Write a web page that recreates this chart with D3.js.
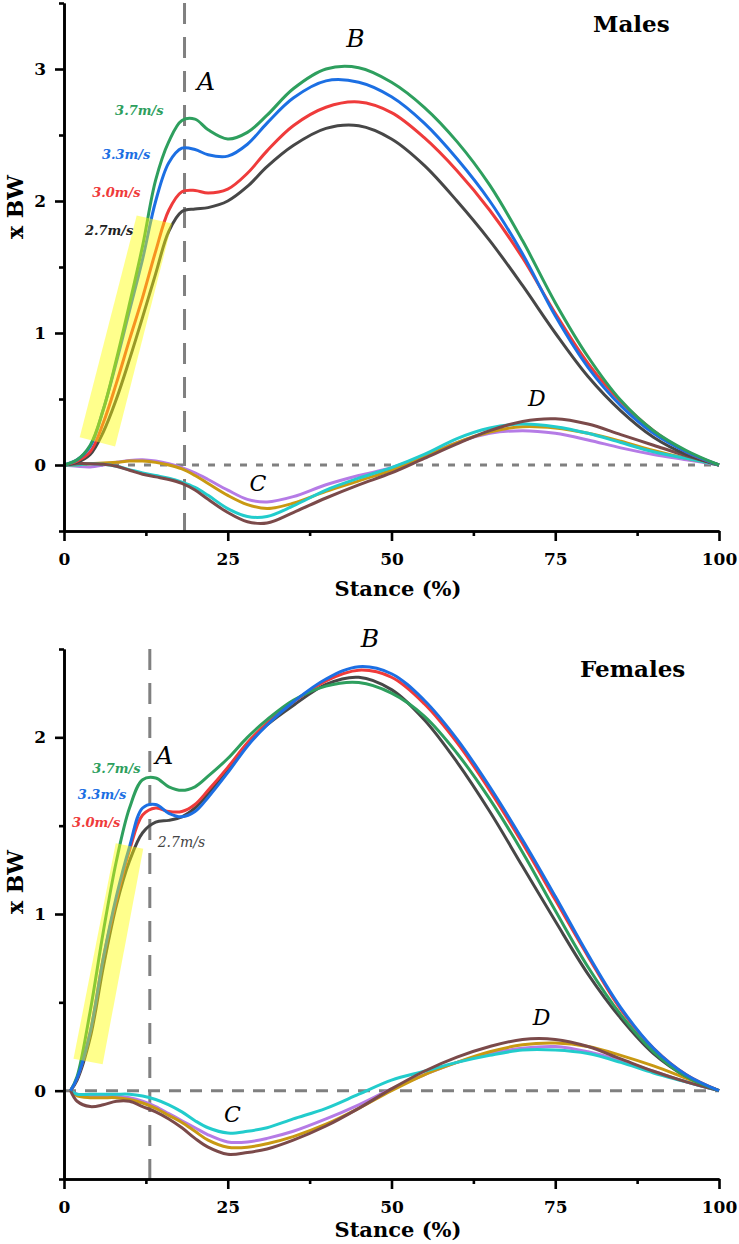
<!DOCTYPE html>
<html>
<head>
<meta charset="utf-8">
<script src="https://cdn.jsdelivr.net/npm/d3@7"></script>
<style>
  html, body { margin: 0; padding: 0; background: #fff; }
  svg { display: block; }
  text { font-family: "DejaVu Serif", "Liberation Serif", serif; }
</style>
</head>
<body>
<script>
// ---------------- DATA ----------------
const stanceM = [0,2,4,6,8,10,12,14,16,18,20,22,25,28,31,35,40,45,50,55,60,65,70,75,80,85,90,95,100];
const stanceF = [1,2,4,6,8,10,12,14,16,18,20,22,25,28,31,35,40,45,50,55,60,65,70,75,80,85,90,95,100];

const speeds = ["2.7m/s","3.0m/s","3.3m/s","3.7m/s"];

// Males – upper curves (x BW)
const male27 = [0,0.02,0.08,0.25,0.5,0.8,1.12,1.45,1.77,1.92,1.94,1.95,2.0,2.11,2.26,2.42,2.55,2.57,2.47,2.27,2.0,1.7,1.36,1.0,0.67,0.41,0.21,0.08,0];
const male30 = [0,0.03,0.1,0.32,0.62,0.95,1.27,1.62,1.93,2.07,2.08,2.06,2.09,2.21,2.38,2.57,2.71,2.75,2.67,2.48,2.23,1.93,1.57,1.15,0.77,0.48,0.26,0.1,0];
const male33 = [0,0.04,0.14,0.42,0.78,1.17,1.56,2.0,2.29,2.4,2.39,2.35,2.34,2.43,2.59,2.78,2.91,2.9,2.79,2.59,2.32,2.0,1.6,1.13,0.74,0.45,0.24,0.1,0];
const male37 = [0,0.04,0.15,0.42,0.8,1.22,1.66,2.16,2.45,2.61,2.62,2.54,2.47,2.52,2.65,2.85,3.0,3.01,2.9,2.71,2.45,2.12,1.7,1.23,0.82,0.49,0.26,0.11,0];
// Males – lower curves
const malePurple = [0,-0.01,-0.015,0.0,0.02,0.035,0.04,0.03,0.01,-0.02,-0.06,-0.11,-0.19,-0.26,-0.28,-0.24,-0.15,-0.08,-0.02,0.07,0.17,0.24,0.26,0.24,0.19,0.13,0.08,0.04,0];
const maleGold   = [0,0.0,0.01,0.015,0.02,0.03,0.03,0.02,0.0,-0.03,-0.08,-0.14,-0.23,-0.3,-0.33,-0.29,-0.2,-0.12,-0.04,0.06,0.17,0.25,0.29,0.28,0.24,0.18,0.11,0.05,0];
const maleCyan   = [0,0.0,0.01,0.005,-0.01,-0.035,-0.06,-0.08,-0.1,-0.13,-0.17,-0.23,-0.33,-0.39,-0.39,-0.31,-0.19,-0.1,-0.02,0.08,0.2,0.28,0.31,0.29,0.24,0.17,0.1,0.05,0];
const maleBrown  = [0,0.01,0.01,0.005,-0.01,-0.04,-0.07,-0.09,-0.11,-0.14,-0.19,-0.26,-0.36,-0.43,-0.44,-0.36,-0.25,-0.15,-0.06,0.05,0.16,0.26,0.33,0.35,0.31,0.23,0.15,0.07,0];

// Females – upper curves
const female27 = [0,0.06,0.3,0.7,1.05,1.3,1.46,1.52,1.53,1.55,1.6,1.68,1.82,1.96,2.07,2.18,2.3,2.34,2.27,2.1,1.86,1.58,1.27,0.96,0.66,0.41,0.21,0.08,0];
const female30 = [0,0.07,0.33,0.75,1.08,1.36,1.56,1.6,1.58,1.58,1.62,1.7,1.83,1.97,2.08,2.2,2.32,2.38,2.34,2.19,1.97,1.7,1.4,1.08,0.76,0.46,0.24,0.09,0];
const female33 = [0,0.07,0.33,0.75,1.1,1.38,1.6,1.62,1.57,1.55,1.58,1.66,1.8,1.95,2.07,2.2,2.33,2.4,2.36,2.21,1.99,1.72,1.42,1.1,0.77,0.47,0.24,0.09,0];
const female37 = [0,0.08,0.45,0.9,1.3,1.6,1.76,1.77,1.72,1.7,1.72,1.78,1.88,2.0,2.1,2.21,2.29,2.31,2.25,2.12,1.91,1.65,1.35,1.02,0.7,0.43,0.22,0.08,0];
// Females – lower curves
const femalePurple = [0,-0.02,-0.03,-0.03,-0.03,-0.04,-0.06,-0.09,-0.13,-0.17,-0.21,-0.25,-0.29,-0.29,-0.27,-0.23,-0.16,-0.08,0.01,0.09,0.16,0.21,0.24,0.25,0.22,0.17,0.11,0.05,0];
const femaleGold   = [0,-0.03,-0.04,-0.04,-0.04,-0.05,-0.07,-0.1,-0.14,-0.18,-0.23,-0.28,-0.32,-0.32,-0.3,-0.26,-0.19,-0.1,0.0,0.09,0.16,0.22,0.26,0.27,0.25,0.2,0.14,0.07,0];
const femaleCyan   = [0,-0.02,-0.02,-0.02,-0.02,-0.02,-0.03,-0.05,-0.08,-0.12,-0.17,-0.21,-0.24,-0.23,-0.21,-0.16,-0.1,-0.02,0.06,0.11,0.16,0.2,0.23,0.23,0.21,0.16,0.1,0.05,0];
const femaleBrown  = [0,-0.06,-0.09,-0.08,-0.06,-0.06,-0.09,-0.12,-0.16,-0.21,-0.27,-0.32,-0.36,-0.35,-0.33,-0.28,-0.2,-0.1,0.01,0.11,0.19,0.25,0.29,0.29,0.25,0.18,0.11,0.05,0];

// Tick values
const xTicks = [0,25,50,75,100];
const xMinor = [12.5,37.5,62.5,87.5];
const yTicksM = [0,1,2,3];
const yMinorM = [-0.5,0.5,1.5,2.5,3.5];
const yTicksF = [0,1,2];
const yMinorF = [-0.5,0.5,1.5,2.5];

// Event marker (stance %) for peak A
const markerAM = 18.4;
const markerAF = 13.1;

// Yellow highlight corners (stance %, x BW)
const highlightM = [[2.4,0.21],[7.8,0.14],[16.5,1.83],[11.1,1.89]];
const highlightF = [[1.45,0.18],[5.9,0.15],[12.1,1.37],[7.9,1.4]];

// ---------------- STYLE ----------------
const colUpper = {"2.7m/s":"#474747","3.0m/s":"#ef3b3b","3.3m/s":"#1c6fe3","3.7m/s":"#2e9f5e"};
const colLower = ["#b57be6","#c99912","#22cccc","#7b4a4a"];

const W = 739, H = 1244;
const svg = d3.select("body").append("svg").attr("width", W).attr("height", H);

function panel(cfg) {
  const g = svg.append("g");
  const x = d3.scaleLinear().domain([0,100]).range([64,719]);
  const y = d3.scaleLinear().domain(cfg.yDomain).range([cfg.yBottom, cfg.yTop]);
  const line = d3.line().x(d => x(d[0])).y(d => y(d[1])).curve(d3.curveCatmullRom.alpha(0.5));

  // zero line
  g.append("line").attr("x1", x(0)).attr("x2", x(100)).attr("y1", y(0)).attr("y2", y(0))
    .attr("stroke", "#808080").attr("stroke-width", 3).attr("stroke-dasharray", cfg.zeroDash);
  // vertical marker
  g.append("line").attr("x1", x(cfg.marker)).attr("x2", x(cfg.marker))
    .attr("y1", y(cfg.yDomain[1])).attr("y2", y(cfg.yDomain[0]))
    .attr("stroke", "#808080").attr("stroke-width", 3).attr("stroke-dasharray", "21,13");

  // lower curves
  cfg.lower.forEach((vals, i) => {
    g.append("path").datum(cfg.stance.map((s,k) => [s, vals[k]]))
      .attr("d", line).attr("fill","none").attr("stroke", colLower[i]).attr("stroke-width", 3);
  });
  // upper curves
  cfg.upperOrder.forEach(sp => {
    const vals = cfg.upper[sp];
    g.append("path").datum(cfg.stance.map((s,k) => [s, vals[k]]))
      .attr("d", line).attr("fill","none").attr("stroke", colUpper[sp]).attr("stroke-width", 3);
  });

  // highlight
  g.append("path").datum(cfg.highlight)
    .attr("d", d3.line().x(d => x(d[0])).y(d => y(d[1])).curve(d3.curveLinearClosed))
    .attr("fill", "#ffff00").attr("fill-opacity", 0.45).attr("stroke", "none");

  // axes
  const xAxis = g.append("g").attr("transform", `translate(0,${y(cfg.yDomain[0])})`)
    .call(d3.axisBottom(x).tickValues(xTicks).tickSize(10).tickSizeOuter(0).tickPadding(12).tickFormat(d3.format("d")));
  const xMin = g.append("g").attr("transform", `translate(0,${y(cfg.yDomain[0])})`)
    .call(d3.axisBottom(x).tickValues(xMinor).tickSize(5).tickSizeOuter(0).tickFormat(""));
  const yAxis = g.append("g").attr("transform", `translate(${x(0)},0)`)
    .call(d3.axisLeft(y).tickValues(cfg.yTicks).tickSize(9).tickSizeOuter(0).tickPadding(9).tickFormat(d3.format("d")));
  const yMin = g.append("g").attr("transform", `translate(${x(0)},0)`)
    .call(d3.axisLeft(y).tickValues(cfg.yMinor).tickSize(5).tickSizeOuter(0).tickFormat(""));
  [xAxis, xMin, yAxis, yMin].forEach(a => {
    a.selectAll("path").attr("stroke","#000").attr("stroke-width",2.6);
    a.selectAll("line").attr("stroke","#000").attr("stroke-width",2.6);
    a.selectAll("text").attr("fill","#000").style("font-family","'DejaVu Serif', serif")
      .style("font-size","17px").style("font-weight","bold");
  });

  // axis titles
  g.append("text").attr("x", 398).attr("y", cfg.xTitleY).attr("text-anchor","middle")
    .style("font-size","21px").style("font-weight","bold").text("Stance (%)");
  g.append("text").attr("transform", `translate(23,${cfg.yTitleC}) rotate(-90)`).attr("text-anchor","middle")
    .style("font-size","22px").style("font-weight","bold").text("x BW");

  // panel title
  g.append("text").attr("x", cfg.titleX).attr("y", cfg.titleY)
    .style("font-size","23px").style("font-weight","bold").text(cfg.title);

  // event letters
  cfg.letters.forEach(L => {
    g.append("text").attr("x", x(L.s)).attr("y", y(L.v)).attr("text-anchor","middle")
      .style("font-size", L.size + "px").style("font-style","italic").text(L.t);
  });

  // speed labels
  cfg.speedLabels.forEach(L => {
    g.append("text").attr("x", x(L.s)).attr("y", y(L.v)).attr("text-anchor", L.anchor)
      .attr("fill", L.color || colUpper[L.t])
      .style("font-size", (L.size || 13) + "px").style("font-style","italic")
      .style("font-weight", L.weight || "bold").text(L.t);
  });
}

panel({
  title: "Males", titleX: 593, titleY: 32,
  stance: stanceM, yDomain: [-0.5,3.5], yBottom: 531, yTop: 3,
  yTicks: yTicksM, yMinor: yMinorM, marker: markerAM, highlight: highlightM,
  zeroDash: "7,9", xTitleY: 596, yTitleC: 207,
  upper: {"2.7m/s": male27, "3.0m/s": male30, "3.3m/s": male33, "3.7m/s": male37},
  upperOrder: ["2.7m/s","3.0m/s","3.3m/s","3.7m/s"],
  lower: [malePurple, maleGold, maleCyan, maleBrown],
  letters: [
    {t:"A", s:21.7, v:2.84, size:25},
    {t:"B", s:44.5, v:3.17, size:25},
    {t:"C", s:29.6, v:-0.2, size:22},
    {t:"D", s:72.2, v:0.445, size:22}
  ],
  speedLabels: [
    {t:"3.7m/s", s:15.2, v:2.65, anchor:"end"},
    {t:"3.3m/s", s:13.2, v:2.32, anchor:"end"},
    {t:"3.0m/s", s:11.7, v:2.03, anchor:"end"},
    {t:"2.7m/s", s:10.6, v:1.74, anchor:"end", color:"#222"}
  ]
});

panel({
  title: "Females", titleX: 580, titleY: 677,
  stance: stanceF, yDomain: [-0.5,2.5], yBottom: 1179, yTop: 649,
  yTicks: yTicksF, yMinor: yMinorF, marker: markerAF, highlight: highlightF,
  zeroDash: "12,9", xTitleY: 1237, yTitleC: 882,
  upper: {"2.7m/s": female27, "3.0m/s": female30, "3.3m/s": female33, "3.7m/s": female37},
  upperOrder: ["2.7m/s","3.0m/s","3.7m/s","3.3m/s"],
  lower: [femalePurple, femaleGold, femaleCyan, femaleBrown],
  letters: [
    {t:"A", s:15.3, v:1.85, size:25},
    {t:"B", s:46.7, v:2.51, size:25},
    {t:"C", s:25.7, v:-0.18, size:22},
    {t:"D", s:72.9, v:0.37, size:22}
  ],
  speedLabels: [
    {t:"3.7m/s", s:11.7, v:1.80, anchor:"end"},
    {t:"3.3m/s", s:9.5, v:1.65, anchor:"end"},
    {t:"3.0m/s", s:8.6, v:1.49, anchor:"end"},
    {t:"2.7m/s", s:14.3, v:1.38, anchor:"start", color:"#444", weight:"normal", size:14}
  ]
});
</script>
</body>
</html>
